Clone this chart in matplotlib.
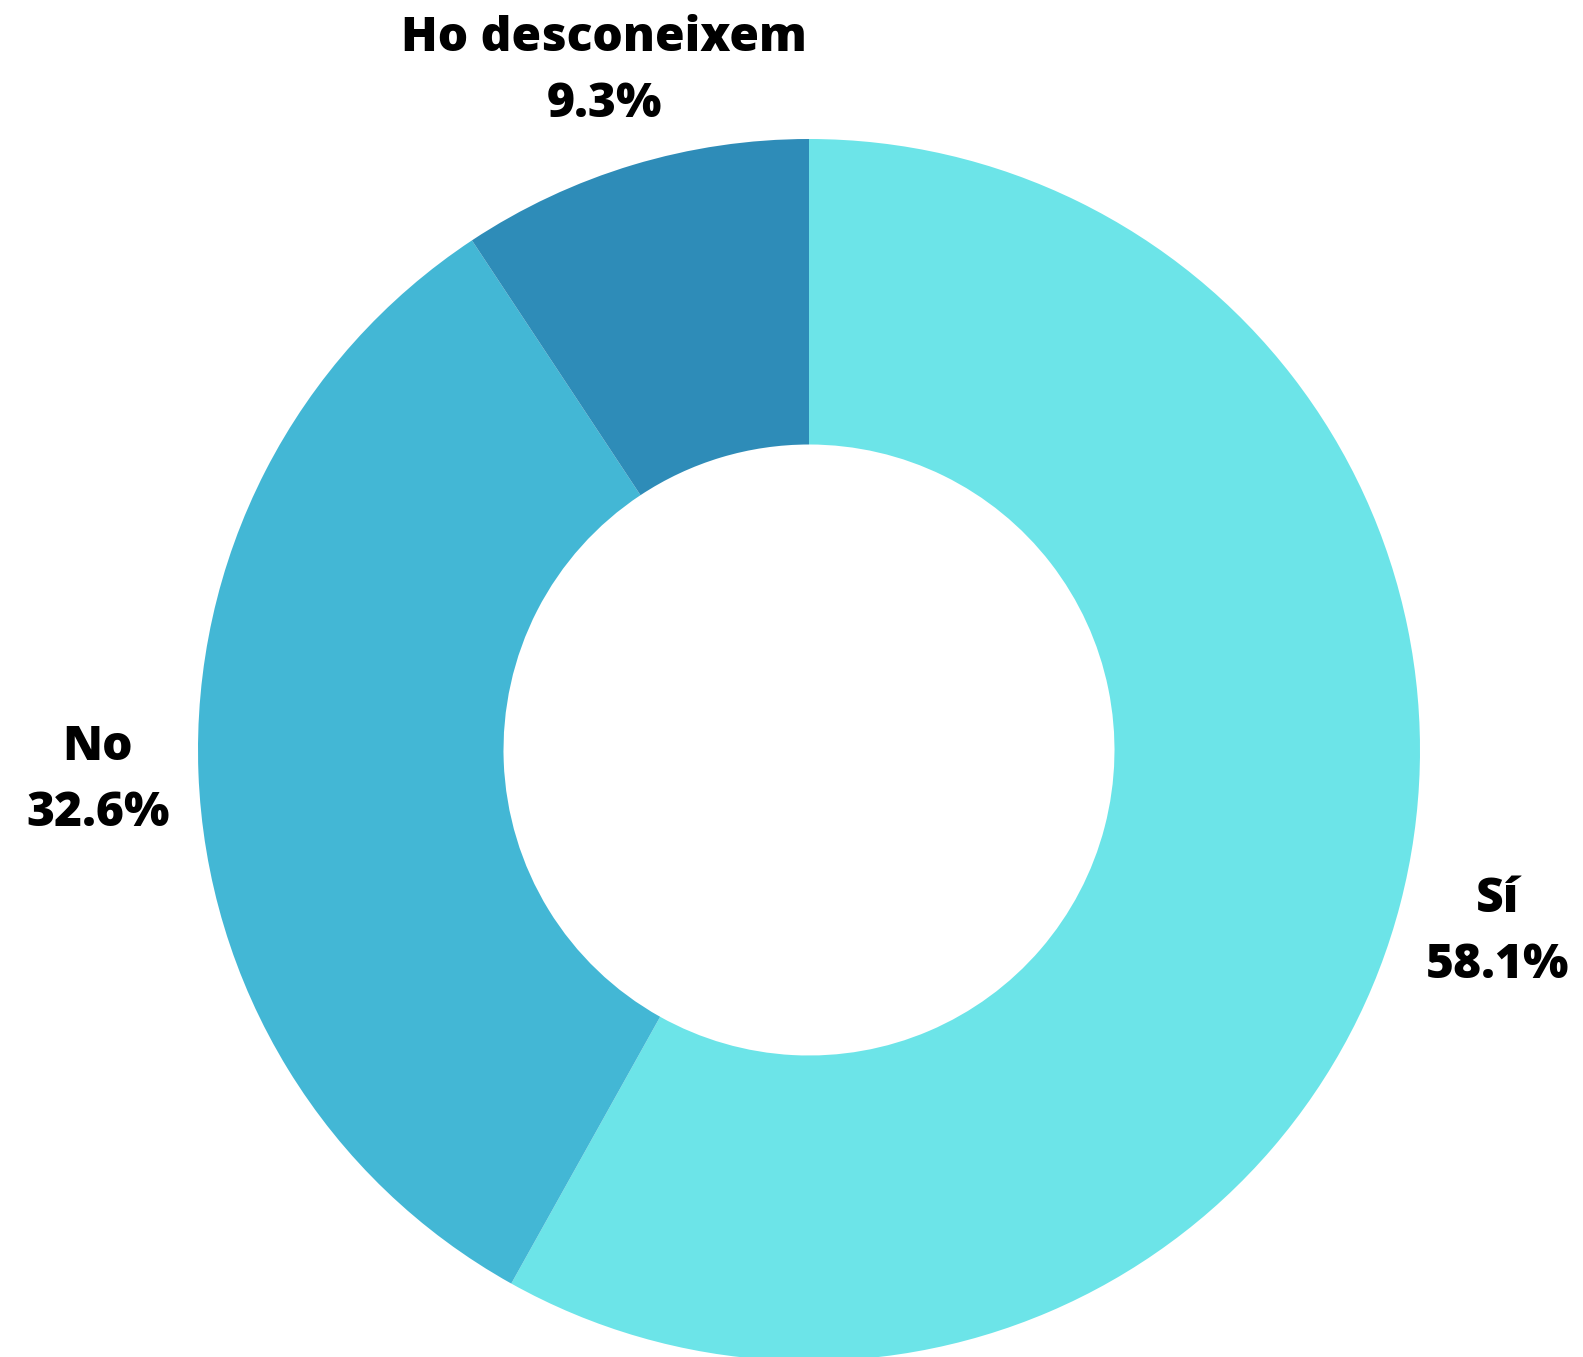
import matplotlib
matplotlib.use("Agg")
import matplotlib.pyplot as plt
from matplotlib.transforms import ScaledTranslation

# Data
labels = ["Sí", "No", "Ho desconeixem"]
shares = [58.1, 32.6, 9.3]
colors = ["#6ce4e8", "#43b7d5", "#2e8cb8"]

texts = [f"{lab}\n{val}%" for lab, val in zip(labels, shares)]

fig = plt.figure(figsize=(15.83, 13.57), dpi=100)
fig.patch.set_facecolor("white")
ax = fig.add_axes([0, 0, 1, 1])

# Donut: starts at the top and runs clockwise
wedges, label_texts = ax.pie(
    shares, labels=texts, colors=colors, startangle=90, counterclock=False,
    radius=1.0, labeldistance=1.165,
    wedgeprops=dict(width=0.5, linewidth=0),
    textprops=dict(ha="center", va="center", fontsize=34.5,
                   fontweight=800, family=["Open Sans", "DejaVu Sans"],
                   linespacing=1.5, color="black"))

# nudge labels a few pixels down
for t in label_texts:
    t.set_transform(t.get_transform() +
                    ScaledTranslation(0, -4 / 100, fig.dpi_scale_trans))

# Place the pie in pixel terms: centre at (809, 750), outer radius 611 px
cx, cy, r = 809, 750, 611
W, H = 1583, 1357
ax.set_xlim(-cx / r, (W - cx) / r)
ax.set_ylim(-(H - cy) / r, cy / r)
ax.set_aspect("auto")
ax.axis("off")

fig.savefig("out.png", dpi=100, facecolor="white")
